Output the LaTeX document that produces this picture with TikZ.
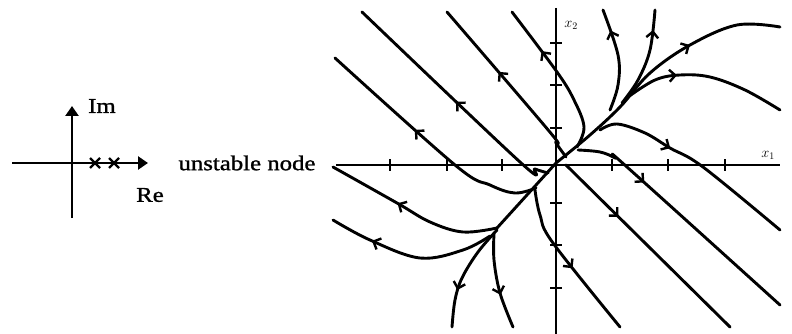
\documentclass[tikz,border=0pt]{standalone}
\usepackage{fontspec}
\usepackage{tikz}
\usetikzlibrary{arrows.meta,decorations.markings}
\newfontfamily\labelfont[FakeStretch=1.18,FakeBold=1.2]{Liberation Serif}
\tikzset{
  axisline/.style={line width=2.9pt},
  traj/.style={line width=2.9pt,line cap=round,line join=round},
  flow/.style={postaction={decorate},decoration={markings,mark=at position #1 with {\arrow{Straight Barb[length=6pt,width=12pt,line width=2.4pt]}}}},
  plane/.style={line width=2.8pt,-{Triangle[length=10pt,width=13pt]}},
  lbl/.style={font=\labelfont\fontsize{21}{23}\selectfont,inner sep=0pt},
  axlbl/.style={font=\fontsize{14}{16}\selectfont,inner sep=0pt}
}
\begin{document}
\begin{tikzpicture}[x=1pt,y=-1pt]
\useasboundingbox (0,0) rectangle (792,334);
% complex plane
\coordinate (imlo) at (72,218);
\coordinate (imhi) at (72,106);
\coordinate (relo) at (12,163);
\coordinate (rehi) at (148,163);
\draw[plane] (imlo) -- (imhi);
\draw[plane] (relo) -- (rehi);
\foreach \px in {95,114}
  \draw[line width=2.3pt] (\px-5,158) -- (\px+5,168) (\px-5,168) -- (\px+5,158);
\node[lbl,anchor=west] (im) at (88,106) {Im};
\node[lbl] (re) at (150,195) {Re};
\node[lbl] (kind) at (247,163) {unstable node};
% phase plane axes
\coordinate (o) at (556,163);
\draw[axisline] (336,165) -- (780,165);
\draw[axisline] (556,8) -- (556,334);
\foreach \tx in {390,447,502,612,668,725}
  \draw[line width=2.2pt] (\tx,159) -- (\tx,171);
\foreach \ty in {43,85,128,203,245,288}
  \draw[line width=2.2pt] (550,\ty) -- (562,\ty);
\node[axlbl] (xtwo) at (571,25) {$x_2$};
\node[axlbl] (xone) at (768,155) {$x_1$};
% slow direction
\draw[traj] (o) -- (497,228);
\draw[traj,flow=0.655] plot[smooth,tension=0.6] coordinates {(556,163) (590,135) (620,107) (650,73) (690,45) (737,25) (780,27)};
% trajectories leaving to the upper left
\draw[traj,flow=0.59] plot[smooth,tension=0.6] coordinates {(566,157) (556,143) (549,131) (447,12)};
\draw[traj,flow=0.69] plot[smooth,tension=0.6] coordinates {(577,147) (584,127) (574,100) (557,72) (512,12)};
\draw[traj,flow=0.50] plot[smooth,tension=0.6] coordinates {(548,173) (535,169) (520,162) (362,12)};
\draw[traj,flow=0.57] plot[smooth,tension=0.6] coordinates {(536,188) (515,193) (490,185) (455,165) (335,58)};
\draw[traj,flow=0.59] plot[smooth,tension=0.6] coordinates {(497,228) (463,232) (430,222) (397,203) (333,167)};
\draw[traj,flow=0.74] plot[smooth,tension=0.6] coordinates {(490,236) (463,250) (420,258) (370,240) (333,220)};
% trajectories leaving downward
\draw[traj,flow=0.66] plot[smooth,tension=0.6] coordinates {(497,230) (478,252) (462,278) (455,300) (452,327)};
\draw[traj,flow=0.64] plot[smooth,tension=0.6] coordinates {(494,234) (494,260) (500,293) (513,327)};
\draw[traj,flow=0.54] plot[smooth,tension=0.6] coordinates {(535,190) (540,215) (553,243) (620,327)};
% trajectories leaving to the lower right
\draw[traj,flow=0.32] (566,165) -- (730,327);
\draw[traj,flow=0.32] plot[smooth,tension=0.6] coordinates {(578,150) (600,152) (615,158) (627,167) (780,305)};
\draw[traj,flow=0.36] plot[smooth,tension=0.6] coordinates {(600,130) (617,124) (645,133) (670,148) (703,167) (780,230)};
% trajectories leaving upward and to the right
\draw[traj,flow=0.33] plot[smooth,tension=0.6] coordinates {(628,97) (655,80) (680,75) (710,77) (745,90) (780,110)};
\draw[traj,flow=0.8] plot[smooth,tension=0.6] coordinates {(622,103) (638,80) (650,50) (655,10)};
\draw[traj,flow=0.79] plot[smooth,tension=0.6] coordinates {(610,110) (618,85) (618,55) (603,10)};
\end{tikzpicture}
\end{document}
